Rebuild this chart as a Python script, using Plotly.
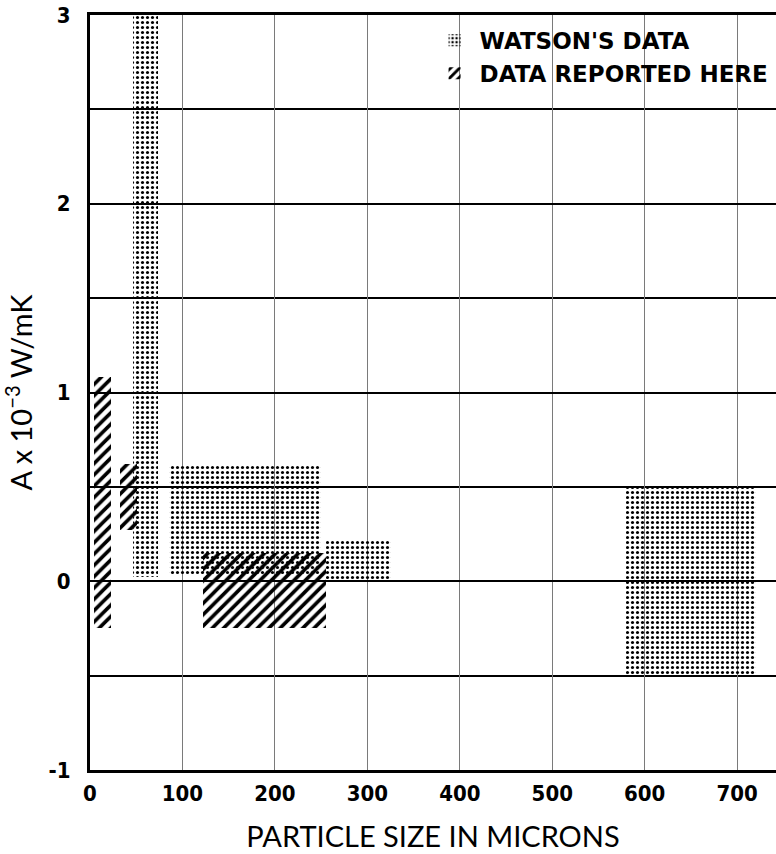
import plotly.graph_objects as go

# ---- data (particle size in microns, A x 1e-3 W/mK) ----
watson_x_lo = [47, 85, 255, 580]
watson_x_hi = [74, 250, 326, 720]
watson_y_lo = [0.02, 0.03, 0.0, -0.5]
watson_y_hi = [3.0, 0.61, 0.22, 0.5]

here_x_lo = [4, 32, 122]
here_x_hi = [23, 51, 255]
here_y_lo = [-0.25, 0.27, -0.25]
here_y_hi = [1.08, 0.62, 0.15]

x_ticks = [0, 100, 200, 300, 400, 500, 600, 700]
y_ticks = [-1, 0, 1, 2, 3]
y_tick_text = ["-1", "0", "1", "2", "3"]


def bar_args(xlo, xhi, ylo, yhi):
    return dict(
        x=[(a + b) / 2 for a, b in zip(xlo, xhi)],
        width=[b - a for a, b in zip(xlo, xhi)],
        base=ylo,
        y=[b - a for a, b in zip(ylo, yhi)],
    )


fig = go.Figure()
fig.add_trace(go.Bar(
    name="WATSON'S DATA",
    **bar_args(watson_x_lo, watson_x_hi, watson_y_lo, watson_y_hi),
    marker=dict(
        color="rgba(0,0,0,0)",
        line=dict(width=0),
        pattern=dict(shape=".", fgcolor="black", bgcolor="rgba(0,0,0,0)",
                     fgopacity=1, size=5, solidity=0.3, fillmode="overlay"),
    ),
    hoverinfo="skip",
))
fig.add_trace(go.Bar(
    name="DATA REPORTED HERE",
    **bar_args(here_x_lo, here_x_hi, here_y_lo, here_y_hi),
    marker=dict(
        color="rgba(0,0,0,0)",
        line=dict(width=0),
        pattern=dict(shape="/", fgcolor="black", bgcolor="rgba(0,0,0,0)",
                     fgopacity=1, size=8, solidity=0.45, fillmode="overlay"),
    ),
    hoverinfo="skip",
))

tick_font = dict(family="DejaVu Sans Condensed", size=22, color="black", weight="bold")
title_font = dict(family="Lato", size=29, color="black")

fig.update_layout(
    width=776, height=854,
    margin=dict(l=90, r=0, t=15, b=84),
    paper_bgcolor="white", plot_bgcolor="white",
    barmode="overlay",
    bargap=0,
    showlegend=True,
    legend=dict(
        x=0.495, y=0.995, xanchor="left", yanchor="top",
        bgcolor="rgba(0,0,0,0)",
        font=dict(family="DejaVu Sans", size=23, color="black", weight="bold"),
        tracegroupgap=2, itemsizing="constant", itemwidth=40,
    ),
    xaxis=dict(
        range=[0, 742],
        tickvals=x_ticks,
        showgrid=True, gridcolor="#7a7a7a", gridwidth=1,
        showline=True, linecolor="black", linewidth=3, mirror=True,
        zeroline=False,
        ticks="", ticklabelstandoff=2,
        tickfont=tick_font,
        title=dict(text="PARTICLE SIZE IN MICRONS", font=title_font, standoff=22),
    ),
    yaxis=dict(
        range=[-1, 3],
        tickvals=y_ticks, ticktext=y_tick_text,
        showgrid=True, gridcolor="black", gridwidth=1.5,
        minor=dict(dtick=0.5, showgrid=True, gridcolor="black", gridwidth=1.5),
        showline=True, linecolor="black", linewidth=3, mirror=False,
        zeroline=False,
        ticks="", ticklabelstandoff=12,
        tickfont=tick_font,
        title=dict(text="A x 10<sup>−3</sup> W/mK", font=title_font, standoff=12),
    ),
)

fig.write_html("out.html")
